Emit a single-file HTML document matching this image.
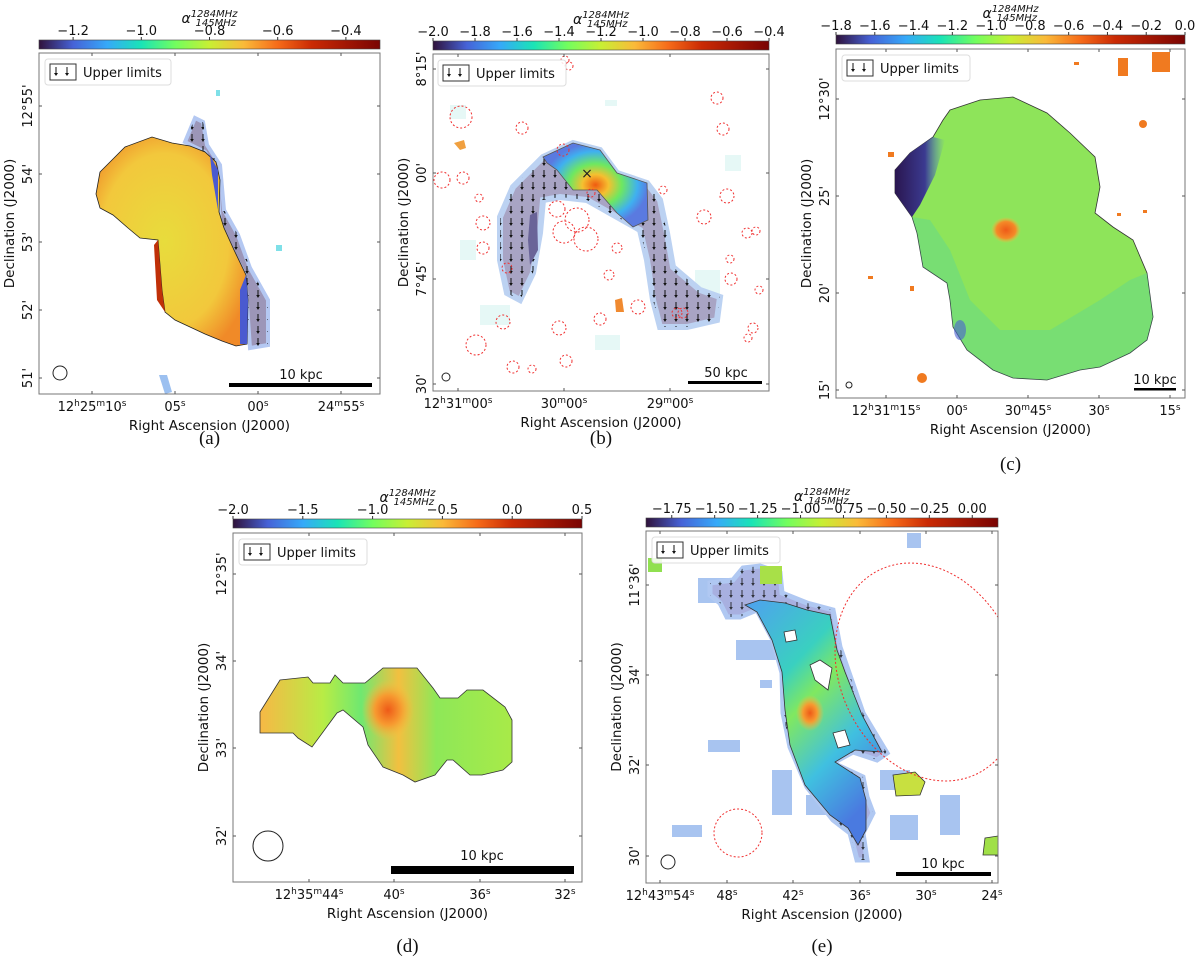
<!DOCTYPE html>
<html><head><meta charset="utf-8"><style>
html,body{margin:0;padding:0;background:#fff;}
svg{display:block;font-family:"DejaVu Sans","Liberation Sans",sans-serif;}
.tk{font-size:13px;fill:#111;}
.al{font-size:13.5px;fill:#111;}
.cap{font-family:"Liberation Serif",serif;font-size:19px;fill:#111;}
</style></head><body>
<svg id="fig" width="1200" height="962" viewBox="0 0 1200 962" xmlns="http://www.w3.org/2000/svg">
<defs>
<linearGradient id="turbo" x1="0" x2="1" y1="0" y2="0">
<stop offset="0" stop-color="#30123b"/><stop offset="0.1" stop-color="#4662d7"/><stop offset="0.2" stop-color="#36a9f9"/><stop offset="0.3" stop-color="#1ae4b6"/><stop offset="0.4" stop-color="#72fe5e"/><stop offset="0.5" stop-color="#c8ef34"/><stop offset="0.6" stop-color="#faba39"/><stop offset="0.7" stop-color="#f66b19"/><stop offset="0.8" stop-color="#ca2a04"/><stop offset="1" stop-color="#7a0403"/>
</linearGradient>
<pattern id="arrows" width="11" height="12" patternUnits="userSpaceOnUse">
<line x1="5" y1="2" x2="5" y2="8" stroke="#111" stroke-width="1"/><path d="M3.2,7 L5,10 L6.8,7Z" fill="#111"/>
</pattern>
<radialGradient id="aCore" cx="0.45" cy="0.5" r="0.6"><stop offset="0" stop-color="#e8dc3c"/><stop offset="0.7" stop-color="#f2c83c"/><stop offset="1" stop-color="#f08a28"/></radialGradient>
<radialGradient id="bCore" cx="0.5" cy="0.5" r="0.5"><stop offset="0" stop-color="#f05a10"/><stop offset="0.25" stop-color="#f5c030"/><stop offset="0.5" stop-color="#6ee860"/><stop offset="0.8" stop-color="#3fb0f0"/><stop offset="1" stop-color="#5a7ae0"/></radialGradient>
<radialGradient id="orangeSpot" cx="0.5" cy="0.5" r="0.5"><stop offset="0" stop-color="#ee5a18"/><stop offset="0.5" stop-color="#f79a30"/><stop offset="1" stop-color="#f7c040" stop-opacity="0"/></radialGradient>
<radialGradient id="cSpot" cx="0.5" cy="0.5" r="0.5"><stop offset="0" stop-color="#ee5a18"/><stop offset="0.65" stop-color="#f58a28"/><stop offset="1" stop-color="#f7c040" stop-opacity="0"/></radialGradient>
<linearGradient id="eBand" x1="0" y1="0" x2="0.6" y2="1"><stop offset="0" stop-color="#4fa0f0"/><stop offset="0.35" stop-color="#3ad0c0"/><stop offset="0.5" stop-color="#80e860"/><stop offset="0.75" stop-color="#40c0e0"/><stop offset="1" stop-color="#4a7ae0"/></linearGradient>
<linearGradient id="dFill" x1="0" x2="1"><stop offset="0" stop-color="#f7b845"/><stop offset="0.25" stop-color="#b8ec45"/><stop offset="0.4" stop-color="#70e870"/><stop offset="0.55" stop-color="#f2c040"/><stop offset="0.7" stop-color="#8ee858"/><stop offset="1" stop-color="#a8ea48"/></linearGradient>
<linearGradient id="cEdge" x1="0" x2="1"><stop offset="0" stop-color="#2a1650"/><stop offset="0.6" stop-color="#3b3a90"/><stop offset="1" stop-color="#4a80e0" stop-opacity="0"/></linearGradient>
<clipPath id="clipA"><rect x="39" y="53" width="341" height="341"/></clipPath>
<clipPath id="clipB"><rect x="433" y="54" width="336" height="337"/></clipPath>
<clipPath id="clipC"><rect x="836" y="49" width="349" height="349"/></clipPath>
<clipPath id="clipD"><rect x="233" y="533" width="349" height="349"/></clipPath>
<clipPath id="clipE"><rect x="646" y="531" width="352" height="352"/></clipPath>
</defs>

<!-- Panel A content -->
<g clip-path="url(#clipA)">
<path d="M185,142 L195,118 L203,122 L207,145 L220,165 L224,210 L238,235 L250,268 L268,300 L268,345 L250,348 L245,275 L232,250 L220,225 L217,175 L205,152Z" fill="#9c96b8" stroke="#b4c8f2" stroke-width="4"/>
<path d="M185,142 L195,118 L203,122 L207,145 L220,165 L224,210 L238,235 L250,268 L268,300 L268,345 L250,348 L245,275 L232,250 L220,225 L217,175 L205,152Z" fill="url(#arrows)"/>
<path d="M100,172 L112,160 L125,147 L152,137 L172,143 L190,146 L205,152 L216,162 L220,180 L219,212 L224,228 L234,250 L246,275 L248,300 L247,344 L236,346 L222,341 L205,334 L190,327 L175,320 L165,312 L162,290 L158,240 L140,238 L128,228 L113,215 L100,208 L96,194Z" fill="url(#aCore)" stroke="#222" stroke-width="0.8"/>
<path d="M246,275 L248,300 L247,344 L240,344 L240,290Z" fill="#4a5ad0"/>
<path d="M210,155 L218,170 L218,210 L212,175Z" fill="#4a5ad0"/>
<path d="M158,240 L162,290 L165,312 L157,300 L154,245Z" fill="#c03008"/>
<rect x="216" y="90" width="4" height="6" fill="#7fe0e8"/>
<rect x="276" y="245" width="6" height="6" fill="#7fe0e8"/>
<path d="M159,375 L167,375 L172,392 L165,394Z" fill="#9cc0f0"/>
<circle cx="60" cy="373" r="7" fill="none" stroke="#222"/>
<rect x="229" y="383" width="143" height="4" fill="#000"/>
<text class="tk" x="301" y="379" text-anchor="middle">10 kpc</text>
</g>

<!-- Panel B content -->
<g clip-path="url(#clipB)">
<g fill="#c8f0ec" opacity="0.45">
<rect x="450" y="105" width="16" height="14"/><rect x="605" y="100" width="12" height="6"/><rect x="695" y="270" width="25" height="40"/><rect x="480" y="305" width="30" height="20"/><rect x="725" y="155" width="16" height="16"/><rect x="460" y="240" width="16" height="20"/><rect x="595" y="335" width="25" height="15"/>
</g>
<path d="M500,217 L513,187 L543,157 L573,143 L600,150 L617,173 L647,183 L660,200 L667,233 L673,267 L700,290 L720,297 L717,320 L687,327 L660,327 L653,300 L647,260 L640,230 L617,217 L587,200 L560,197 L543,200 L540,233 L533,273 L520,300 L507,293 L500,260Z" fill="#a8a4c4" stroke="#bcd2f2" stroke-width="6"/>
<path d="M500,217 L513,187 L543,157 L573,143 L600,150 L617,173 L647,183 L660,200 L667,233 L673,267 L700,290 L720,297 L717,320 L687,327 L660,327 L653,300 L647,260 L640,230 L617,217 L587,200 L560,197 L543,200 L540,233 L533,273 L520,300 L507,293 L500,260Z" fill="url(#arrows)"/>
<path d="M530,215 L537,212 L538,250 L530,265 L528,240Z" fill="#6a6498"/>
<path d="M543,157 L573,143 L600,150 L617,173 L647,183 L648,220 L633,227 L617,213 L597,190 L573,190 L557,170 L547,163Z" fill="url(#bCore)" stroke="#555" stroke-width="0.8"/>
<text x="587" y="178" text-anchor="middle" font-size="14" fill="#222">×</text>
<path d="M454,143 L464,140 L466,148 L460,150Z" fill="#f0a040"/>
<path d="M615,300 L622,298 L624,312 L616,312Z" fill="#f08a30"/>
<g id="bCircles" fill="none" stroke="#f03030" stroke-width="1" stroke-dasharray="2,2"></g>
<circle cx="446" cy="377" r="4" fill="none" stroke="#222"/>
<rect x="688" y="381" width="74" height="3" fill="#000"/>
<text class="tk" x="726" y="377" text-anchor="middle">50 kpc</text>
</g>

<!-- Panel C content -->
<g clip-path="url(#clipC)">
<path d="M950,110 L980,100 L1013,97 L1047,113 L1070,133 L1095,157 L1100,187 L1095,213 L1113,227 L1133,240 L1147,273 L1153,317 L1147,340 L1130,353 L1100,367 L1080,370 L1047,380 L1013,378 L993,370 L967,350 L953,327 L950,300 L947,283 L923,267 L917,233 L912,217 L895,193 L895,170 L910,153 L933,137 L943,120Z" fill="#8ee45a" stroke="#333" stroke-width="0.8"/>
<path d="M912,217 L917,233 L923,267 L947,283 L950,300 L953,327 L967,350 L993,370 L1013,378 L1047,380 L1080,370 L1100,367 L1130,353 L1147,340 L1153,317 L1147,273 L1130,280 L1100,300 L1050,330 L1000,330 L970,300 L950,250 L930,220Z" fill="#45d0b0" opacity="0.3"/>
<path d="M933,137 L945,140 L935,175 L920,205 L912,217 L895,193 L895,170 L910,153Z" fill="url(#cEdge)"/>
<ellipse cx="1006" cy="230" rx="15" ry="13" fill="url(#cSpot)"/>
<ellipse cx="960" cy="330" rx="6" ry="10" fill="#4a60d0" opacity="0.6"/>
<g fill="#f07a20"><rect x="1152" y="52" width="18" height="20"/><rect x="1118" y="58" width="10" height="18"/><circle cx="1143" cy="124" r="4"/><circle cx="922" cy="378" r="5"/><rect x="888" y="152" width="6" height="5"/><rect x="868" y="276" width="5" height="3"/><rect x="910" y="286" width="4" height="5"/><rect x="1074" y="62" width="5" height="3"/><rect x="1117" y="213" width="4" height="3"/><rect x="1143" y="210" width="4" height="3"/></g>
<circle cx="849" cy="385" r="3" fill="none" stroke="#222"/>
<rect x="1134" y="388" width="42" height="2.5" fill="#000"/>
<text class="tk" x="1155" y="384" text-anchor="middle">10 kpc</text>
</g>

<!-- Panel D content -->
<g clip-path="url(#clipD)">
<path d="M260,712 L280,680 L308,677 L313,683 L330,683 L335,675 L343,683 L365,683 L383,668 L417,668 L433,688 L440,698 L458,698 L467,690 L483,690 L505,707 L512,720 L512,762 L503,770 L482,775 L470,775 L453,760 L447,760 L435,775 L415,782 L403,775 L383,767 L368,745 L363,727 L343,710 L337,713 L312,747 L298,738 L293,733 L260,733Z" fill="url(#dFill)" stroke="#333" stroke-width="0.8"/>
<ellipse cx="388" cy="710" rx="26" ry="30" fill="url(#orangeSpot)"/>
<circle cx="268" cy="846" r="15" fill="none" stroke="#222"/>
<rect x="391" y="866" width="183" height="8" fill="#000"/>
<text class="tk" x="482" y="860" text-anchor="middle">10 kpc</text>
</g>

<!-- Panel E content -->
<g clip-path="url(#clipE)">
<g fill="#a8c4f0"><rect x="698" y="578" width="38" height="25"/><rect x="736" y="640" width="50" height="20"/><rect x="708" y="740" width="32" height="12"/><rect x="772" y="770" width="20" height="45"/><rect x="806" y="795" width="40" height="20"/><rect x="672" y="825" width="30" height="12"/><rect x="940" y="795" width="20" height="40"/><rect x="890" y="815" width="28" height="25"/><rect x="907" y="533" width="14" height="15"/><rect x="760" y="680" width="12" height="8"/><rect x="880" y="770" width="30" height="20"/></g>
<path d="M710,583 L733,580 L743,568 L760,566 L780,573 L782,593 L807,603 L833,610 L840,647 L847,667 L863,713 L887,753 L877,760 L853,752 L833,763 L863,777 L867,797 L873,813 L863,833 L867,860 L857,860 L850,833 L833,820 L807,787 L790,747 L783,713 L782,673 L773,640 L757,610 L740,617 L727,617 L720,603 L710,595Z" fill="#a8b0e0" stroke="#b0c8f2" stroke-width="5"/>
<path d="M710,583 L733,580 L743,568 L760,566 L780,573 L782,593 L807,603 L833,610 L840,647 L847,667 L863,713 L887,753 L877,760 L853,752 L833,763 L863,777 L867,797 L873,813 L863,833 L867,860 L857,860 L850,833 L833,820 L807,787 L790,747 L783,713 L782,673 L773,640 L757,610 L740,617 L727,617 L720,603 L710,595Z" fill="url(#arrows)" opacity="0.8"/>
<path d="M745,605 L760,600 L785,603 L807,610 L830,615 L837,650 L845,672 L862,715 L882,752 L855,750 L835,762 L860,778 L866,800 L866,830 L858,845 L848,828 L830,815 L805,785 L790,745 L785,710 L782,672 L772,640 L757,612Z" fill="url(#eBand)" stroke="#333" stroke-width="0.8"/>
<ellipse cx="810" cy="713" rx="14" ry="18" fill="url(#orangeSpot)"/>
<path d="M810,665 L820,660 L832,668 L828,690 L815,680Z" fill="#fff" stroke="#333" stroke-width="0.8"/>
<path d="M784,632 L795,630 L797,640 L786,642Z" fill="#fff" stroke="#333" stroke-width="0.8"/>
<path d="M833,733 L845,730 L850,745 L838,748Z" fill="#fff" stroke="#333" stroke-width="0.8"/>
<rect x="760" y="566" width="22" height="18" fill="#a8e048"/>
<path d="M893,775 L915,772 L925,782 L920,795 L896,796Z" fill="#c8e040" stroke="#333" stroke-width="0.8"/>
<path d="M985,838 L998,836 L998,855 L983,855Z" fill="#a0e048" stroke="#333" stroke-width="0.8"/>
<rect x="648" y="558" width="14" height="14" fill="#90e050"/>
<ellipse cx="928" cy="672" rx="88" ry="113" transform="rotate(-25 928 672)" fill="none" stroke="#f03030" stroke-width="1" stroke-dasharray="2,2"/>
<circle cx="738" cy="833" r="24" fill="none" stroke="#f03030" stroke-width="1" stroke-dasharray="2,2"/>
<circle cx="668" cy="862" r="7" fill="none" stroke="#222"/>
<rect x="896" y="872" width="95" height="4" fill="#000"/>
<text class="tk" x="943" y="868" text-anchor="middle">10 kpc</text>
</g>

<g id="axes"></g>
</svg>
<script>
// Colorbar tick labels per panel
const cbTicksA = [-1.2, -1.0, -0.8, -0.6, -0.4];
const cbTicksB = [-2.0, -1.8, -1.6, -1.4, -1.2, -1.0, -0.8, -0.6, -0.4];
const cbTicksC = [-1.8, -1.6, -1.4, -1.2, -1.0, -0.8, -0.6, -0.4, -0.2, 0.0];
const cbTicksD = [-2.0, -1.5, -1.0, -0.5, 0.0, 0.5];
const cbTicksE = [-1.75, -1.50, -1.25, -1.00, -0.75, -0.50, -0.25, 0.00];
// Axis tick labels
const raLabelsA = ["12h25m10s", "05s", "00s", "24m55s"];
const decLabelsA = ["12°55'", "54'", "53'", "52'", "51'"];
const raLabelsB = ["12h31m00s", "30m00s", "29m00s"];
const decLabelsB = ["8°15'", "00'", "7°45'", "30'"];
const raLabelsC = ["12h31m15s", "00s", "30m45s", "30s", "15s"];
const decLabelsC = ["12°30'", "25'", "20'", "15'"];
const raLabelsD = ["12h35m44s", "40s", "36s", "32s"];
const decLabelsD = ["12°35'", "34'", "33'", "32'"];
const raLabelsE = ["12h43m54s", "48s", "42s", "36s", "30s", "24s"];
const decLabelsE = ["11°36'", "34'", "32'", "30'"];
// Excluded sources in panel (b): [x, y, r] positions in map pixels
const bCircleX = [461,522,563,442,463,479,483,483,507,503,476,513,532,559,566,557,577,564,586,617,609,600,638,663,591,677,683,704,727,717,723,747,756,730,731,759,753,748,565,569];
const bCircleY = [117,128,150,180,178,198,223,248,268,322,345,367,369,328,361,209,220,232,239,248,275,319,307,190,193,313,313,217,196,98,129,233,231,259,279,290,328,338,60,66];
const bCircleR = [11,6,6,8,6,4,7,6,5,7,10,6,4,7,6,8,12,11,12,5,5,6,7,4,4,5,5,7,7,6,6,5,4,4,6,4,5,4,4,4];

const NS = "http://www.w3.org/2000/svg";
const axes = document.getElementById("axes");
function mk(tag, attrs, parent, txt) {
  const e = document.createElementNS(NS, tag);
  for (const k in attrs) e.setAttribute(k, attrs[k]);
  if (txt !== undefined) e.textContent = txt;
  (parent || axes).appendChild(e);
  return e;
}
function fmt(v, d) { return (v < 0 ? "\u2212" : "") + Math.abs(v).toFixed(d); }
function raText(parent, x, y, s) {
  const t = mk("text", {x: x, y: y, "text-anchor": "middle", class: "tk"}, parent);
  const parts = [];
  if (s.indexOf("h") > 0) {
    const mm = s.match(/^(\d+)h(\d+)m(\d+)s$/);
    parts.push([mm[1], 0], ["h", 1], [mm[2], 0], ["m", 1], [mm[3], 0], ["s", 1]);
  } else if (s.indexOf("m") > 0) {
    const mm = s.match(/^(\d+)m(\d+)s$/);
    parts.push([mm[1], 0], ["m", 1], [mm[2], 0], ["s", 1]);
  } else {
    parts.push([s.replace("s", ""), 0], ["s", 1]);
  }
  let prevSup = false;
  parts.forEach(p => {
    const sup = p[1] === 1;
    const a = {dy: sup ? (prevSup ? "0" : "-5") : (prevSup ? "5" : "0")};
    if (sup) a["font-size"] = "9";
    mk("tspan", a, t, p[0]);
    prevSup = sup;
  });
  return t;
}

const panels = [
  {id: "a", fx: 39, fy: 53, fw: 341, fh: 341, cbY: 40, cbTicks: cbTicksA, vmin: -1.3, vmax: -0.3, dec: 1,
   ra: raLabelsA, raX: [92, 175, 258, 341], decL: decLabelsA, decY: [106, 174, 242, 310, 378], cap: "(a)", capY: 444, legW: 126},
  {id: "b", fx: 433, fy: 54, fw: 336, fh: 337, cbY: 41, cbTicks: cbTicksB, vmin: -2.0, vmax: -0.4, dec: 1,
   ra: raLabelsB, raX: [458, 564, 670], decL: decLabelsB, decY: [69, 173, 279, 384], cap: "(b)", capY: 444, legW: 128, legX: 438},
  {id: "c", fx: 836, fy: 49, fw: 349, fh: 349, cbY: 35, cbTicks: cbTicksC, vmin: -1.8, vmax: 0.0, dec: 1,
   ra: raLabelsC, raX: [886, 957, 1028, 1099, 1170], decL: decLabelsC, decY: [99, 196, 293, 390], cap: "(c)", capY: 470, legW: 128},
  {id: "d", fx: 233, fy: 533, fw: 349, fh: 349, cbY: 519, cbTicks: cbTicksD, vmin: -2.0, vmax: 0.5, dec: 1,
   ra: raLabelsD, raX: [309, 394, 480, 565], decL: decLabelsD, decY: [574, 661, 748, 836], cap: "(d)", capY: 952, legW: 128},
  {id: "e", fx: 646, fy: 531, fw: 352, fh: 352, cbY: 518, cbTicks: cbTicksE, vmin: -1.9, vmax: 0.15, dec: 2,
   ra: raLabelsE, raX: [660, 727, 793, 860, 926, 992], decL: decLabelsE, decY: [585, 675, 765, 856], cap: "(e)", capY: 952, legW: 128}
];

panels.forEach(p => {
  const g = mk("g", {});
  
  
  const cbScale = v => p.fx + (v - p.vmin) / (p.vmax - p.vmin) * p.fw;
  const cb = mk("rect", {x: p.fx, y: p.cbY, width: p.fw, height: 9, fill: "url(#turbo)", stroke: "#444", "stroke-width": 0.6}, g);
  
  
  p.cbTicks.forEach(v => {
    const x = cbScale(v);
    mk("line", {x1: x, x2: x, y1: p.cbY, y2: p.cbY - 3, stroke: "#333"}, g);
    const t = mk("text", {x: x, y: p.cbY - 5, "text-anchor": "middle", class: "tk"}, g, fmt(v, p.dec));
    
    
  });
  const tl = mk("text", {x: p.fx + p.fw / 2, y: p.cbY - 17, "text-anchor": "middle", "font-size": "14", "font-style": "italic", fill: "#111"}, g, "α");
  
  
  mk("tspan", {"font-size": "10", "font-style": "italic", dy: "-6"}, tl, "1284MHz");
  mk("tspan", {"font-size": "10", "font-style": "italic", dx: "-42", dy: "9"}, tl, "145MHz");
  const fr = mk("rect", {x: p.fx, y: p.fy, width: p.fw, height: p.fh, fill: "none", stroke: "#777", "stroke-width": 1}, g);
  
  
  p.ra.forEach((s, i) => {
    const x = p.raX[i];
    mk("line", {x1: x, x2: x, y1: p.fy + p.fh, y2: p.fy + p.fh - 3, stroke: "#555"}, g);
    mk("line", {x1: x, x2: x, y1: p.fy, y2: p.fy + 3, stroke: "#555"}, g);
    const t = raText(g, x, p.fy + p.fh + 17, s);
    
    
  });
  p.decL.forEach((s, i) => {
    const y = p.decY[i];
    mk("line", {x1: p.fx, x2: p.fx + 3, y1: y, y2: y, stroke: "#555"}, g);
    mk("line", {x1: p.fx + p.fw, x2: p.fx + p.fw - 3, y1: y, y2: y, stroke: "#555"}, g);
    const t = mk("text", {x: p.fx - 7, y: y, "text-anchor": "middle", class: "tk", transform: "rotate(-90 " + (p.fx - 7) + " " + y + ")"}, g, s);
    
    
  });
  const xl = mk("text", {x: p.fx + p.fw / 2, y: p.fy + p.fh + 36, "text-anchor": "middle", class: "al"}, g, "Right Ascension (J2000)");
  
  
  const yx = p.fx - 25, yy = p.fy + p.fh / 2;
  const yl = mk("text", {x: yx, y: yy, "text-anchor": "middle", class: "al", transform: "rotate(-90 " + yx + " " + yy + ")"}, g, "Declination (J2000)");
  
  
  const lx = p.legX || p.fx + 6, ly = p.fy + 6;
  const lg = mk("g", {}, g);
  
  
  mk("rect", {x: lx, y: ly, width: p.legW, height: 26, rx: 3, fill: "#fff", "fill-opacity": 0.85, stroke: "#ddd"}, lg);
  mk("rect", {x: lx + 5, y: ly + 5, width: 26, height: 16, fill: "none", stroke: "#333"}, lg);
  [lx + 11, lx + 22].forEach(ax => {
    mk("line", {x1: ax, x2: ax, y1: ly + 8, y2: ly + 15, stroke: "#111"}, lg);
    mk("path", {d: "M" + (ax - 2) + "," + (ly + 14) + " L" + ax + "," + (ly + 17) + " L" + (ax + 2) + "," + (ly + 14) + "Z", fill: "#111"}, lg);
  });
  mk("text", {x: lx + 38, y: ly + 18, class: "tk", "font-size": "13.5"}, lg, "Upper limits");
  const cap = mk("text", {x: p.fx + p.fw / 2, y: p.capY, "text-anchor": "middle", class: "cap"}, g, p.cap);
  
  
});

const bc = document.getElementById("bCircles");
bCircleX.forEach((x, i) => {
  const c = document.createElementNS(NS, "circle");
  
  
  c.setAttribute("cx", x); c.setAttribute("cy", bCircleY[i]); c.setAttribute("r", bCircleR[i]);
  bc.appendChild(c);
});
</script>
</body></html>
